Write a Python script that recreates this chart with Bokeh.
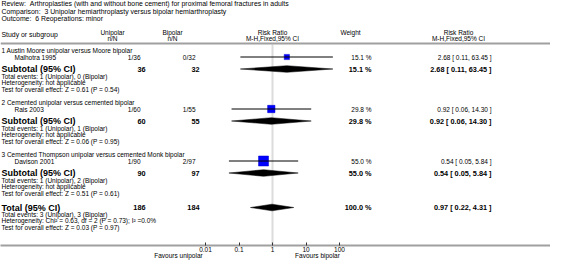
import math
from bokeh.plotting import figure
from bokeh.models import (ColumnDataSource, Range1d, LogScale, LogAxis, LinearAxis,
                          FixedTicker, CustomJSTickFormatter, Span)
from bokeh.core.properties import value
from bokeh.embed import file_html
from bokeh.resources import INLINE

# ---------------- data ----------------
review = "Review:\u00a0\u00a0Arthroplasties (with and without bone cement) for proximal femoral fractures in adults"
comparison = "Comparison:\u00a0\u00a03 Unipolar hemiarthroplasty versus bipolar hemiarthroplasty"
outcome = "Outcome:\u00a0\u00a06 Reoperations: minor"

group_names = ["1 Austin Moore unipolar versus Moore bipolar",
               "2 Cemented unipolar versus cemented bipolar",
               "3 Cemented Thompson unipolar versus cemented Monk bipolar"]
study_names = ["Malhotra 1995", "Rais 2003", "Davison 2001"]
uni_events = [1, 1, 1]
uni_total = [36, 60, 90]
bip_events = [0, 1, 2]
bip_total = [32, 55, 97]
rr = [2.68, 0.92, 0.54]
rr_lo = [0.11, 0.06, 0.05]
rr_hi = [63.45, 14.30, 5.84]
weight = [15.1, 29.8, 55.0]
sub_z = ["0.61", "0.06", "0.51"]
sub_p = ["0.54", "0.95", "0.61"]

total_uni = 186
total_bip = 184
total_ev_uni = 3
total_ev_bip = 3
total_rr = 0.97
total_lo = 0.22
total_hi = 4.31
total_weight = 100.0
total_het = "Heterogeneity: Chi\u00b2 = 0.63, df = 2 (P = 0.73); I\u00b2 =0.0%"
total_z = "0.03"
total_p = "0.97"

axis_ticks = [0.01, 0.1, 1, 10, 100]
favours = ["Favours unipolar", "Favours bipolar"]

# ---------------- layout (page pixels) ----------------
X_LEFT, X_STUDY = 9, 22
X_UNI, X_UNI_B, X_UNI_H = 148, 153, 120
X_BIP, X_BIP_B, X_BIP_H = 203, 207, 180
X_W, X_W_H = 379, 358
X_RR, X_RR_H = 499, 466
X_ONE, PX_DEC = 280, 33.5
GROUP_Y = [58, 110, 162]
TOTAL_Y = 215
LINE_Y = 51
TOP, SMALL, BOLDL, BOLDN = "6.9px", "6.5px", "9px", "7.3px"
FONT = value("Liberation Sans")

p = figure(frame_width=550, frame_height=245, x_range=Range1d(8, 558),
           y_range=Range1d(253, 8), output_backend="svg", toolbar_location=None,
           x_axis_location=None, y_axis_location=None, min_border=0,
           background_fill_color="white", border_fill_color="white")
p.outline_line_color = None
p.xgrid.visible = False
p.ygrid.visible = False
p.extra_x_ranges = {"rr": Range1d(10 ** ((8 - X_ONE) / PX_DEC), 10 ** ((558 - X_ONE) / PX_DEC))}
p.extra_x_scales = {"rr": LogScale()}


def add_text(xs, ys, texts, size, align, bold=False):
    src = ColumnDataSource(dict(x=xs, y=ys, t=texts))
    p.text(x="x", y="y", text="t", source=src, text_font=FONT, text_font_size=size,
           text_align=align, text_baseline="middle",
           text_font_style="bold" if bold else "normal", text_color="black")


def fmt_ci(r, lo, hi):
    return "%.2f [ %.2f, %.2f ]" % (r, lo, hi)


# header texts
add_text([X_LEFT] * 3, [11, 18.5, 26], [review, comparison, outcome], TOP, "left")
add_text([X_LEFT], [41.5], ["Study or subgroup"], TOP, "left")
add_text([X_UNI_H, X_UNI_H, X_BIP_H, X_BIP_H, X_ONE, X_ONE, X_W_H, X_RR_H, X_RR_H],
         [39.5, 46, 39.5, 46, 39.5, 46, 39.5, 39.5, 46],
         ["Unipolar", "n/N", "Bipolar", "n/N", "Risk Ratio", "M-H,Fixed,95% CI",
          "Weight", "Risk Ratio", "M-H,Fixed,95% CI"], SMALL, "center")

p.add_layout(Span(location=LINE_Y, dimension="width", line_color="#a0a0a0", line_width=2))
p.segment(x0=[1], x1=[1], y0=[LINE_Y + 1], y1=[253], x_range_name="rr",
          line_color="#dcdcdc", line_width=2)

# per-group rows
sl_x, sl_y, sl_t = [], [], []
sr_x, sr_y, sr_t = [], [], []
bl_x, bl_y, bl_t = [], [], []
bn_x, bn_y, bn_t = [], [], []
study_y, sub_y = [], []
for i, gy in enumerate(GROUP_Y):
    sy, suby = gy + 6.5, gy + 18.5
    study_y.append(sy)
    sub_y.append(suby)
    sl_x += [X_LEFT, X_STUDY, X_LEFT, X_LEFT, X_LEFT]
    sl_y += [gy, sy, gy + 25.5, gy + 32, gy + 38.5]
    sl_t += [group_names[i], study_names[i],
             "Total events: %d (Unipolar), %d (Bipolar)" % (uni_events[i], bip_events[i]),
             "Heterogeneity: not applicable",
             "Test for overall effect: Z = %s (P = %s)" % (sub_z[i], sub_p[i])]
    sr_x += [X_UNI, X_BIP, X_W, X_RR]
    sr_y += [sy] * 4
    sr_t += ["%d/%d" % (uni_events[i], uni_total[i]), "%d/%d" % (bip_events[i], bip_total[i]),
             "%.1f %%" % weight[i], fmt_ci(rr[i], rr_lo[i], rr_hi[i])]
    bl_x.append(X_LEFT)
    bl_y.append(suby)
    bl_t.append("Subtotal (95% CI)")
    bn_x += [X_UNI_B, X_BIP_B, X_W, X_RR]
    bn_y += [suby] * 4
    bn_t += [str(uni_total[i]), str(bip_total[i]), "%.1f %%" % weight[i],
             fmt_ci(rr[i], rr_lo[i], rr_hi[i])]

# overall
sl_x += [X_LEFT] * 3
sl_y += [TOTAL_Y + 6.5, TOTAL_Y + 13, TOTAL_Y + 19.5]
sl_t += ["Total events: %d (Unipolar), %d (Bipolar)" % (total_ev_uni, total_ev_bip),
         total_het, "Test for overall effect: Z = %s (P = %s)" % (total_z, total_p)]
bl_x.append(X_LEFT)
bl_y.append(TOTAL_Y)
bl_t.append("Total (95% CI)")
bn_x += [X_UNI_B, X_BIP_B, X_W, X_RR]
bn_y += [TOTAL_Y] * 4
bn_t += [str(total_uni), str(total_bip), "%.1f %%" % total_weight,
         fmt_ci(total_rr, total_lo, total_hi)]

add_text(sl_x, sl_y, sl_t, SMALL, "left")
add_text(sr_x, sr_y, sr_t, SMALL, "right")
add_text(bl_x, bl_y, bl_t, BOLDL, "left", bold=True)
add_text(bn_x, bn_y, bn_t, BOLDN, "right", bold=True)

# study squares + CIs
sizes = [1.35 * math.sqrt(w) for w in weight]
p.scatter(x=rr, y=study_y, size=sizes, marker="square", x_range_name="rr",
          fill_color="#0000ff", line_color="#0000cc", line_width=0.5)
p.segment(x0=rr_lo, x1=rr_hi, y0=study_y, y1=study_y, x_range_name="rr",
          line_color="black", line_width=1)

# diamonds
d_lo = rr_lo + [total_lo]
d_hi = rr_hi + [total_hi]
d_c = rr + [total_rr]
d_y = sub_y + [TOTAL_Y]
H = 3.3
xs = [[lo, c, hi, c] for lo, c, hi in zip(d_lo, d_c, d_hi)]
ys = [[y, y - H, y, y + H] for y in d_y]
p.patches(xs=xs, ys=ys, x_range_name="rr", fill_color="black", line_color="black",
          line_width=0.5)

# axes
ax = LogAxis(x_range_name="rr", ticker=FixedTicker(ticks=axis_ticks),
             formatter=CustomJSTickFormatter(code="return tick.toString();"))
ax.axis_line_color = "#a0a0a0"
ax.axis_line_width = 2
ax.major_tick_in = 3
ax.major_tick_out = 0
ax.major_tick_line_color = "#333333"
ax.minor_tick_line_color = None
ax.major_label_standoff = 1
ax.major_label_text_font = "Liberation Sans"
ax.major_label_text_font_size = SMALL
ax.major_label_text_color = "black"
p.add_layout(ax, "below")

fav = LinearAxis(ticker=FixedTicker(ticks=[186, 325]),
                 major_label_overrides={186: favours[0], 325: favours[1]})
fav.axis_line_color = None
fav.major_tick_line_color = None
fav.minor_tick_line_color = None
fav.major_tick_in = 0
fav.major_tick_out = 0
fav.major_label_standoff = -3
fav.major_label_text_font = "Liberation Sans"
fav.major_label_text_font_size = SMALL
fav.major_label_text_color = "black"
p.add_layout(fav, "below")

open("out.html", "w").write(file_html(p, INLINE))
